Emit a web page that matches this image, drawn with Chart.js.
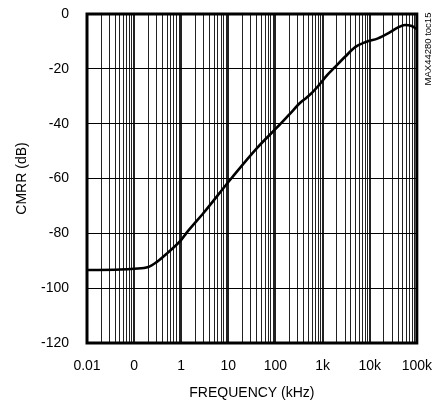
<!DOCTYPE html>
<html>
<head>
<meta charset="utf-8">
<script src="https://cdn.jsdelivr.net/npm/chart.js@4.4.1/dist/chart.umd.min.js"></script>
<style>
  html, body { margin: 0; padding: 0; background: #fff; }
  #wrap { width: 447px; height: 411px; position: relative; }
</style>
</head>
<body>
<div id="wrap"><canvas id="c" width="447" height="411"></canvas></div>
<script>
// ---- data ----
const freqKHz = [0.01, 0.05, 0.1, 0.2, 0.3, 0.5, 1, 1.27, 3, 11.5, 40, 129, 200, 340, 450, 600, 830, 1250, 1800, 3000, 5000, 8000, 15000, 25000, 40000, 56000, 78000, 100000];
const cmrrDB  = [-93.4, -93.2, -92.9, -92.3, -90.5, -87.3, -82.4, -80, -72.5, -60, -49, -40, -36.5, -32.3, -30.6, -28.7, -26, -22.3, -19.5, -15.6, -12, -10.3, -8.9, -7, -4.9, -4, -4.4, -5.5];
const decadeTicks = [0.01, 0.1, 1, 10, 100, 1000, 10000, 100000];
const decadeLabels = ['0.01', '0', '1', '10', '100', '1k', '10k', '100k'];
const yTicks = [0, -20, -40, -60, -80, -100, -120];
const noteText = 'MAX44280 toc15';

const FONT = "'Liberation Sans', Arial, sans-serif";
Chart.defaults.font.family = FONT;
Chart.defaults.color = '#000';

// all 1..9 multiples within the decades
const allXTicks = [];
for (let d = 0; d < decadeTicks.length; d++) {
  const base = decadeTicks[d];
  if (d === decadeTicks.length - 1) { allXTicks.push(base); break; }
  for (let m = 1; m <= 9; m++) allXTicks.push(+(base * m).toPrecision(6));
}
function isDecade(v) { return decadeTicks.some(t => Math.abs(t - v) / t < 1e-6); }
function decadeLabel(v) {
  const i = decadeTicks.findIndex(t => Math.abs(t - v) / t < 1e-6);
  return i >= 0 ? decadeLabels[i] : '';
}

const framePlugin = {
  id: 'frame',
  afterDatasetsDraw(chart) {
    const { ctx, chartArea: a } = chart;
    ctx.save();
    ctx.strokeStyle = '#000';
    ctx.lineWidth = 3;
    ctx.strokeRect(a.left, a.top, a.right - a.left, a.bottom - a.top);
    ctx.restore();
  },
  afterDraw(chart) {
    const { ctx } = chart;
    ctx.save();
    ctx.translate(428, 49);
    ctx.rotate(-Math.PI / 2);
    ctx.font = "9.5px " + FONT;
    ctx.fillStyle = '#000';
    ctx.textAlign = 'center';
    ctx.textBaseline = 'middle';
    ctx.fillText(noteText, 0, 0);
    ctx.restore();
  }
};

new Chart(document.getElementById('c'), {
  type: 'line',
  data: {
    datasets: [{
      data: freqKHz.map((f, i) => ({ x: f, y: cmrrDB[i] })),
      borderColor: '#000',
      borderWidth: 2.6,
      pointRadius: 0,
      cubicInterpolationMode: 'monotone',
      fill: false
    }]
  },
  options: {
    responsive: false,
    animation: false,
    devicePixelRatio: 1,
    layout: { padding: { left: 0, right: 28, top: 14, bottom: 0 } },
    plugins: { legend: { display: false }, tooltip: { enabled: false } },
    scales: {
      x: {
        type: 'logarithmic',
        min: 0.01,
        max: 100000,
        afterBuildTicks(scale) { scale.ticks = allXTicks.map(v => ({ value: v })); },
        afterFit(scale) { scale.height = 411 - 343; },
        border: { display: false },
        grid: {
          drawTicks: false,
          color: '#222',
          lineWidth: ctx => (ctx.tick && isDecade(ctx.tick.value)) ? 2 : 1
        },
        ticks: {
          autoSkip: false,
          maxRotation: 0,
          padding: 15,
          font: { size: 14 },
          callback: v => decadeLabel(v)
        },
        title: {
          display: true,
          text: 'FREQUENCY (kHz)',
          font: { size: 14 },
          padding: { top: 0, bottom: 9 }
        }
      },
      y: {
        min: -120,
        max: 0,
        afterBuildTicks(scale) { scale.ticks = yTicks.map(v => ({ value: v })); },
        afterFit(scale) {
          scale.width = 87;
          scale.paddingTop = 0;
          scale.paddingBottom = 0;
        },
        border: { display: false },
        grid: { drawTicks: false, color: '#000', lineWidth: 1 },
        ticks: {
          padding: 18,
          font: { size: 14 },
          callback: v => String(v)
        },
        title: {
          display: true,
          text: 'CMRR (dB)',
          font: { size: 14 },
          padding: { top: 14, bottom: 0 }
        }
      }
    }
  },
  plugins: [framePlugin]
});
</script>
</body>
</html>
